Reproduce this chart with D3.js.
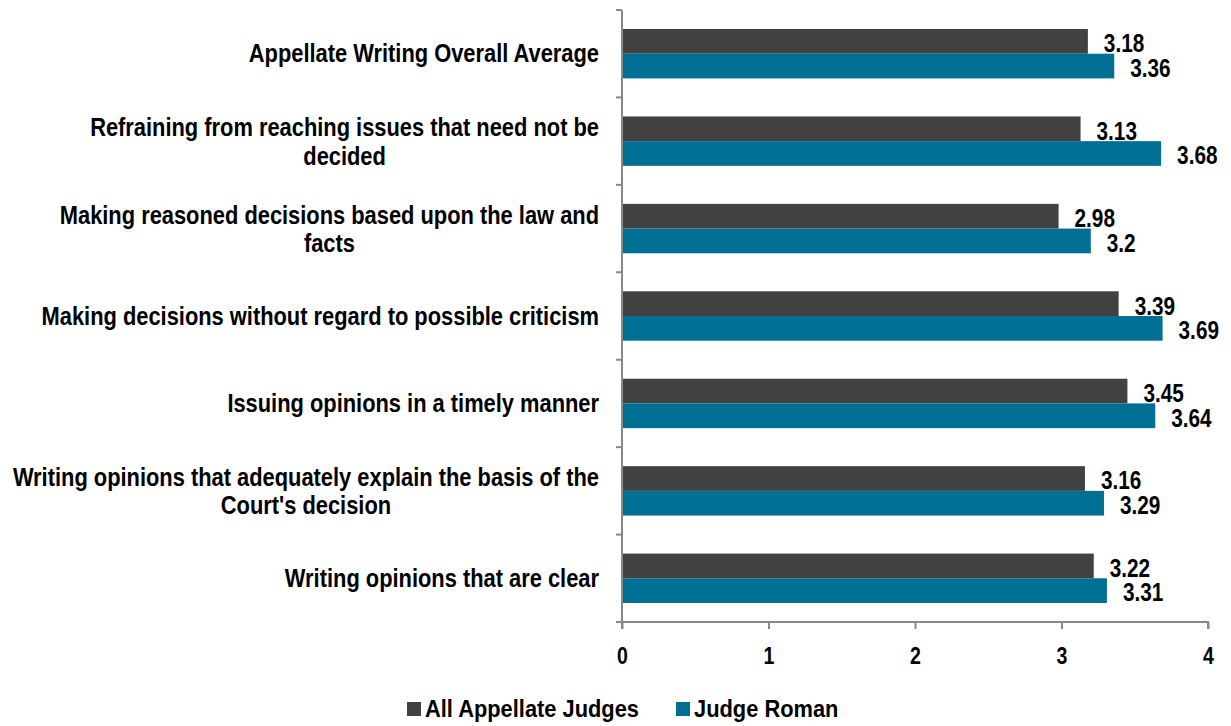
<!DOCTYPE html>
<html><head><meta charset="utf-8">
<script src="https://cdn.jsdelivr.net/npm/d3@7"></script>
<style>
body{margin:0;background:#fff;}
text{font-family:"Liberation Sans Narrow","Liberation Sans",Arial,sans-serif;font-weight:bold;fill:#000;}
</style></head><body>
<svg id="c" width="1231" height="726"></svg>
<script>
const categories = [
  ["Appellate Writing Overall Average"],
  ["Refraining from reaching issues that need not be", "decided"],
  ["Making reasoned decisions based upon the law and", "facts"],
  ["Making decisions without regard to possible criticism"],
  ["Issuing opinions in a timely manner"],
  ["Writing opinions that adequately explain the basis of the", "Court's decision"],
  ["Writing opinions that are clear"]
];
const seriesNames = ["All Appellate Judges", "Judge Roman"];
const allJudges = [3.18, 3.13, 2.98, 3.39, 3.45, 3.16, 3.22];
const judgeRoman = [3.36, 3.68, 3.2, 3.69, 3.64, 3.29, 3.31];
const xTicks = [0, 1, 2, 3, 4];
const colors = ["#414141", "#006f94"];

const svg = d3.select("#c");
const mLeft = 622, mRight = 1208, mTop = 10, mBottom = 622;
const x = d3.scaleLinear().domain([0, 4]).range([mLeft, mRight]);
const idx = categories.map((d, i) => i);
const y = d3.scaleBand().domain(idx).range([mTop, mBottom]).paddingInner(0).paddingOuter(0);
const inner = d3.scaleBand().domain([0, 1]).range([0, y.bandwidth()]).paddingOuter(0.77).paddingInner(0);

function narrowText(g, str, px, py, size, sx, anchor) {
  return g.append("text")
    .attr("transform", `translate(${px},${py}) scale(${sx},1)`)
    .attr("font-size", size)
    .attr("text-anchor", anchor || "start")
    .text(str);
}

const series = [allJudges, judgeRoman];
series.forEach((vals, s) => {
  svg.append("g").selectAll("rect").data(vals).join("rect")
    .attr("x", x(0) + 1)
    .attr("y", (d, i) => y(i) + inner(s))
    .attr("width", d => x(d) - x(0) - 1)
    .attr("height", inner.bandwidth())
    .attr("fill", colors[s]);
  const lg = svg.append("g");
  vals.forEach((d, i) => {
    narrowText(lg, d, x(d) + 16, y(i) + inner(s) + inner.bandwidth() - 1.5, 25, 0.83);
  });
});

// y axis
const yAxis = svg.append("g").attr("transform", `translate(${mLeft},0)`);
yAxis.append("line").attr("x1", 0).attr("x2", 0).attr("y1", mTop).attr("y2", mBottom + 7).attr("stroke", "#898989").attr("stroke-width", 2);
yAxis.selectAll("line.t").data(d3.range(categories.length + 1)).join("line").attr("class", "t")
  .attr("x1", -6).attr("x2", 0)
  .attr("y1", i => i < categories.length ? y(i) : mBottom)
  .attr("y2", i => i < categories.length ? y(i) : mBottom)
  .attr("stroke", "#898989").attr("stroke-width", 2);

// x axis
const xAxis = d3.axisBottom(x).tickValues(xTicks).tickSize(7).tickFormat(d3.format("d"));
const xg = svg.append("g").attr("transform", `translate(0,${mBottom})`).call(xAxis);
xg.attr("font-family", null).attr("font-size", null);
xg.select(".domain").attr("stroke", "#898989").attr("stroke-width", 2).attr("d", `M${mLeft},0H${mRight}V7`);
xg.selectAll(".tick line").attr("stroke", "#898989").attr("stroke-width", 2);
xg.selectAll(".tick text").attr("font-size", 23).attr("dy", null).attr("y", 42).attr("fill", "#000")
  .attr("transform", "scale(0.85,1)").attr("x", 0);

// category labels
const labelRight = 599, catSx = 0.875, catSize = 25;
categories.forEach((lines, i) => {
  const g = svg.append("g");
  const cy = y(i) + y.bandwidth() / 2;
  const base = lines.length === 1 ? [cy + 8.5] : [cy - 5, cy + 23.5];
  const texts = lines.map((l, k) => narrowText(g, l, 0, base[k], catSize, catSx, "middle"));
  const maxW = d3.max(texts, t => t.node().getComputedTextLength()) * catSx;
  texts.forEach((t, k) => t.attr("transform", `translate(${labelRight - maxW / 2},${base[k]}) scale(${catSx},1)`));
});

// legend
const leg = svg.append("g");
const legX = [407, 676];
seriesNames.forEach((n, i) => {
  leg.append("rect").attr("x", legX[i]).attr("y", 702).attr("width", 14).attr("height", 14).attr("fill", colors[i]);
  narrowText(leg, n, legX[i] + 18, 717, 23, 0.95);
});
</script>
</body></html>
